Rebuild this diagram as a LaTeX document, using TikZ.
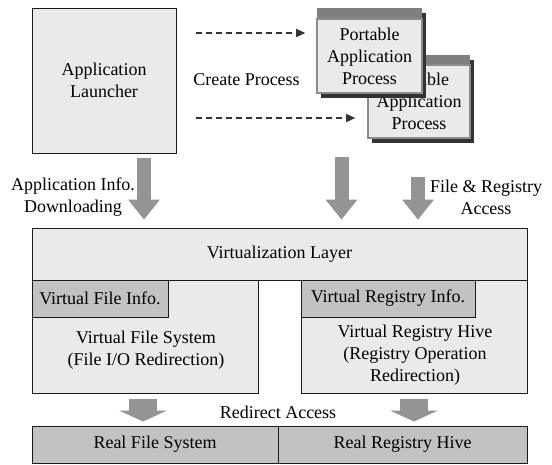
\documentclass[tikz,border=0pt]{standalone}
\usepackage{fontspec}
\setmainfont{Liberation Serif}
\newfontfamily\labelfont{Liberation Serif}
\usetikzlibrary{arrows.meta,shadows}
\definecolor{panel}{HTML}{EAEAEA}
\definecolor{tabgray}{HTML}{C2C2C2}
\definecolor{flowgray}{HTML}{949494}
\definecolor{headgray}{HTML}{7F7F7F}
\definecolor{framegray}{HTML}{8C8C8C}
\definecolor{shade}{HTML}{333333}
\definecolor{ink}{HTML}{1A1A1A}
\begin{document}
\begin{tikzpicture}[x=1pt,y=-1pt,
  font=\labelfont\fontsize{18}{22}\selectfont,
  panelbox/.style={draw=ink, line width=1pt, fill=panel, inner sep=0pt, align=center},
  tabbox/.style={panelbox, fill=tabgray},
  shadowed/.style={drop shadow={shadow xshift=4pt, shadow yshift=-5pt, fill=shade, opacity=1}},
  procbody/.style={draw=framegray, line width=1.6pt, fill=panel, inner sep=0pt, align=center, shadowed},
  prochead/.style={fill=headgray, inner sep=0pt, shadowed},
  caption/.style={inner sep=0pt, align=center},
  fat/.style={draw=flowgray, line width=14pt, -{Triangle[length=20pt,width=32pt,line width=0pt]}},
  wide/.style={draw=flowgray, line width=28pt, -{Triangle[length=11pt,width=48pt,line width=0pt]}},
  dasharrow/.style={draw=shade, line width=1.5pt, dash pattern=on 6pt off 4pt, -{Triangle[length=9pt,width=8pt]}},
]
\useasboundingbox (0,0) rectangle (552,464);

% launcher
\node[panelbox, minimum width=144pt, minimum height=145pt] (launcher) at (104,80.5) {Application\\Launcher};

% process windows (back one first)
\node[prochead, minimum width=102pt, minimum height=10pt] (p2h) at (419,60) {};
\node[procbody, minimum width=102pt, minimum height=73pt] (p2) at (419,101.5) {Portable\\Application\\Process};
\node[prochead, minimum width=105pt, minimum height=11pt] (p1h) at (369.5,13.5) {};
\node[procbody, minimum width=105pt, minimum height=74pt] (p1) at (369.5,56) {Portable\\Application\\Process};

\node[caption] (create) at (246.5,80) {Create Process};
\draw[dasharrow, shorten <=19pt, shorten >=11pt] (launcher.east |- 0,33) -- (p1.west |- 0,33);
\draw[dasharrow, shorten <=19pt, shorten >=12pt] (launcher.east |- 0,118) -- (p2.west |- 0,118);

% virtualization layer
\node[panelbox, minimum width=495pt, minimum height=52pt] (vl) at (279.5,254) {Virtualization Layer};
\node[panelbox, minimum width=226pt, minimum height=113pt] (vfs) at (145,336.5) {};
\node[panelbox, minimum width=226pt, minimum height=113pt] (vrh) at (414,336.5) {};
\node[tabbox, minimum width=136pt, minimum height=37pt] (vfi) at (100,298.5) {Virtual File Info.};
\node[tabbox, minimum width=174pt, minimum height=37pt] (vri) at (388,298.5) {Virtual Registry Info.};
\node[caption] (vfst) at (146,350.5) {Virtual File System\\(File I/O Redirection)};
\node[caption] (vrht) at (415,355) {Virtual Registry Hive\\(Registry Operation\\Redirection)};

% real storage
\node[tabbox, minimum width=246pt, minimum height=37pt] (rfs) at (155,444.5) {Real File System};
\node[tabbox, minimum width=249pt, minimum height=37pt] (rrh) at (402.5,444.5) {Real Registry Hive};

% captions
\node[caption] (appinfo) at (73,197) {Application Info.\\Downloading};
\node[caption] (fra) at (486,197) {File \& Registry\\Access};
\node[caption] (redir) at (278,412) {Redirect Access};

% flow arrows
\coordinate (a2top) at (341.5,157);
\coordinate (a3top) at (418,177);
\draw[fat, shorten <=4pt, shorten >=8pt] (launcher.south -| 144,0) -- (vl.north -| 144,0);
\draw[fat, shorten >=8pt] (a2top) -- (vl.north -| a2top);
\draw[fat, shorten >=8pt] (a3top) -- (vl.north -| a3top);
\draw[wide, shorten <=5pt, shorten >=4pt] (vfs.south -| 143,0) -- (rfs.north -| 143,0);
\draw[wide, shorten <=5pt, shorten >=4pt] (vrh.south -| 414,0) -- (rrh.north -| 414,0);
\end{tikzpicture}
\end{document}
